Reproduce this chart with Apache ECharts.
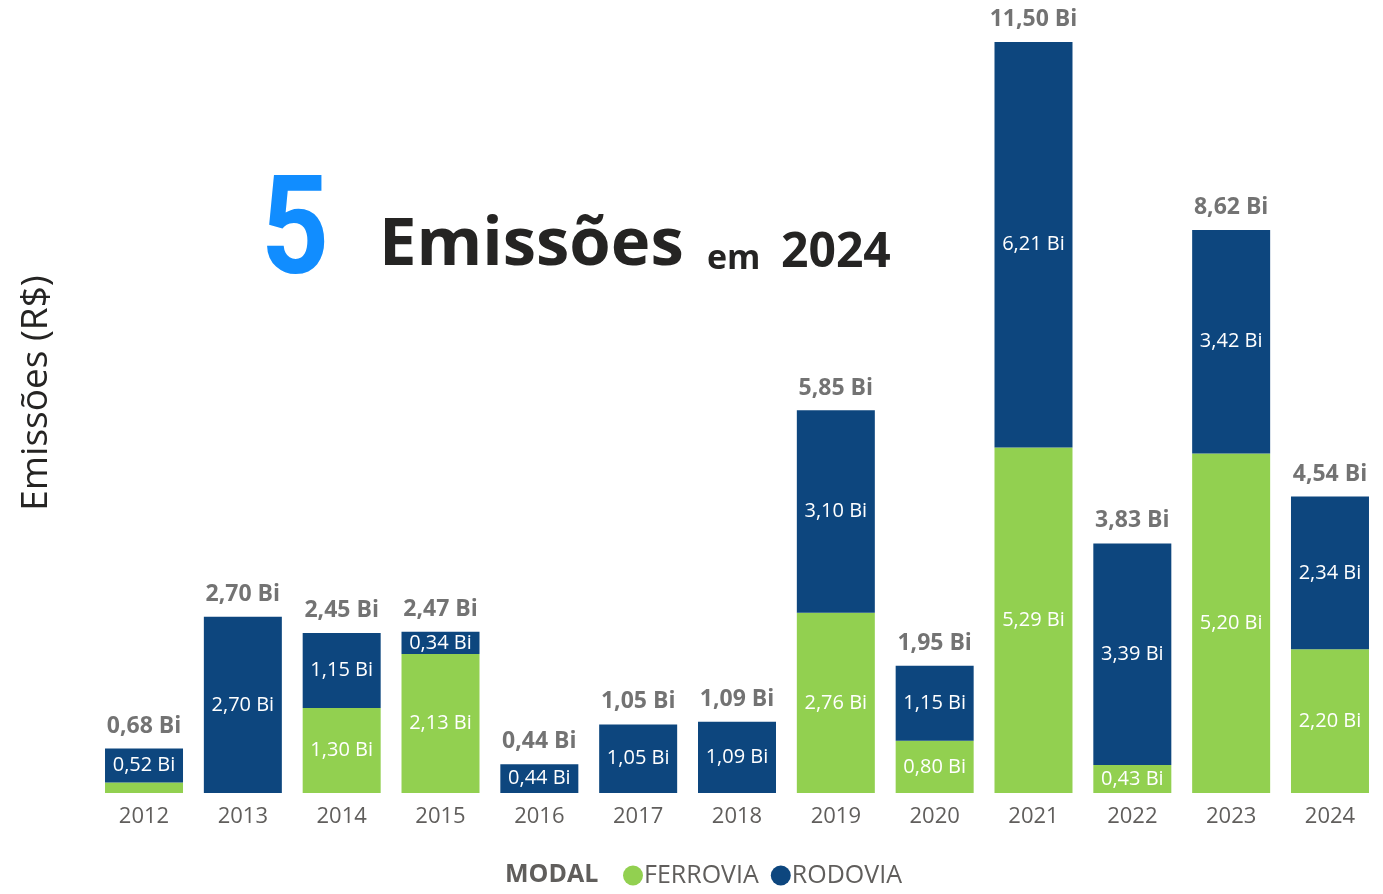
<!DOCTYPE html>
<html><head><meta charset="utf-8">
<script src="https://cdn.jsdelivr.net/npm/echarts@6/dist/echarts.min.js"></script>
<style>html,body{margin:0;padding:0;background:#fff}#c{width:1383px;height:894px}</style>
</head><body><div id="c"></div>
<script>
const years = ['2012','2013','2014','2015','2016','2017','2018','2019','2020','2021','2022','2023','2024'];
const ferrovia = [0.16,0,1.30,2.13,0,0,0,2.76,0.80,5.29,0.43,5.20,2.20];
const rodovia  = [0.52,2.70,1.15,0.34,0.44,1.05,1.09,3.10,1.15,6.21,3.39,3.42,2.34];
const totals   = [0.68,2.70,2.45,2.47,0.44,1.05,1.09,5.85,1.95,11.50,3.83,8.62,4.54];

const GREEN = '#92D050', BLUE = '#0D467E', GRAY = '#605E5C', FONT = '"Open Sans", "Noto Sans", sans-serif';
const fmt = v => v.toFixed(2).replace('.', ',') + ' Bi';
const inner = p => (p.value < 0.2 ? '' : fmt(p.value));

const chart = echarts.init(document.getElementById('c'));
chart.setOption({
  animation: false,
  textStyle: { fontFamily: FONT },
  grid: { left: 94.6, right: 3.6, top: 42, bottom: 101, containLabel: false },
  legend: {
    data: ['FERROVIA', 'RODOVIA'], left: 618, top: 858, icon: 'circle',
    itemWidth: 20, itemHeight: 20, itemGap: 12,
    textStyle: { fontSize: 25, color: GRAY, fontFamily: FONT, padding: [0, 0, 0, -4] }
  },
  xAxis: {
    type: 'category', data: years,
    axisLine: { show: false }, axisTick: { show: false },
    axisLabel: { fontSize: 22, color: GRAY, margin: 13, fontFamily: FONT }
  },
  yAxis: { type: 'value', min: 0, max: 11.5, show: false, splitLine: { show: false } },
  series: [
    { name: 'FERROVIA', type: 'bar', stack: 't', data: ferrovia, barWidth: 78,
      itemStyle: { color: GREEN },
      label: { show: true, position: 'inside', color: '#fff', fontSize: 20, fontFamily: FONT, formatter: inner } },
    { name: 'RODOVIA', type: 'bar', stack: 't', data: rodovia, barWidth: 78,
      itemStyle: { color: BLUE },
      label: { show: true, position: 'inside', color: '#fff', fontSize: 20, fontFamily: FONT, formatter: inner } },
    { name: 'TOTAL', type: 'scatter', data: totals, symbol: 'circle', symbolSize: 2, clip: false,
      itemStyle: { color: 'rgba(0,0,0,0)' }, silent: true, z: 10,
      label: { show: true, position: 'top', distance: 10, color: '#505050', fontSize: 23, fontWeight: 'bold', fontFamily: FONT,
        formatter: p => fmt(p.value) } }
  ],
  graphic: [
    { type: 'text', left: 261, top: 169, scaleX: 0.86, style: { text: '5', fill: '#118DFF', font: 'bold 138px Roboto, "Open Sans", sans-serif' } },
    { type: 'text', left: 379, top: 212, style: { text: 'Emissões', fill: '#252423', font: 'bold 67px "Open Sans", sans-serif' } },
    { type: 'text', left: 707, top: 242, style: { text: 'em', fill: '#252423', font: 'bold 34px "Open Sans", sans-serif' } },
    { type: 'text', left: 781, top: 229, style: { text: '2024', fill: '#252423', font: 'bold 48px "Open Sans", sans-serif' } },
    { type: 'text', x: 36, y: 393, rotation: Math.PI / 2,
      style: { text: 'Emissões (R$)', fill: '#252423', font: '37px "Open Sans", sans-serif', align: 'center', verticalAlign: 'middle' } },
    { type: 'text', left: 505, top: 862, style: { text: 'MODAL', fill: GRAY, font: 'bold 25px "Open Sans", sans-serif' } }
  ]
});
</script></body></html>
